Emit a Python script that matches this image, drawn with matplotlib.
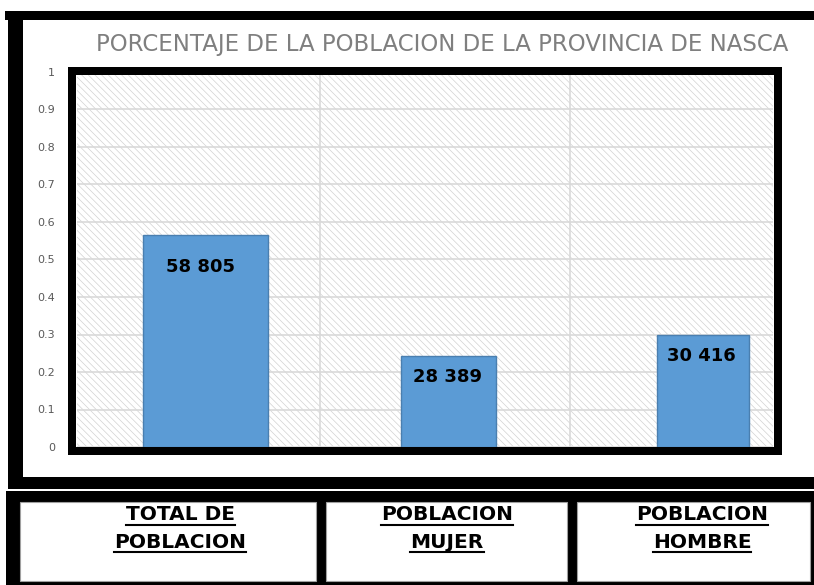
import matplotlib
matplotlib.use("Agg")
import matplotlib.pyplot as plt
import numpy as np
from matplotlib.patches import Rectangle
from matplotlib.lines import Line2D

categories = ["TOTAL DE\nPOBLACION", "POBLACION\nMUJER", "POBLACION\nHOMBRE"]
values = [0.565, 0.243, 0.299]
value_labels = ["58 805", "28 389", "30 416"]
yticks = [0, 0.1, 0.2, 0.3, 0.4, 0.5, 0.6, 0.7, 0.8, 0.9, 1]
ytick_labels = ["0", "0.1", "0.2", "0.3", "0.4", "0.5", "0.6", "0.7", "0.8", "0.9", "1"]
title = "PORCENTAJE DE LA POBLACION DE LA PROVINCIA DE NASCA"

# the original bars are not evenly placed / sized
bar_shift = [0.04, 0.012, 0.032]
bar_width = [0.5, 0.38, 0.37]
label_off = [(-3.6, -23), (-0.7, -15), (-1.4, -15)]
cell_x = [180, 447, 702]

W, H = 814, 585


def px_rect(x0, y0, x1, y1, **kw):
    return Rectangle((x0 / W, 1 - y1 / H), (x1 - x0) / W, (y1 - y0) / H,
                     transform=fig.transFigure, **kw)


plt.rcParams["hatch.linewidth"] = 0.5

fig = plt.figure(figsize=(W / 100, H / 100), dpi=100)
fig.patch.set_facecolor("white")

# outer black frame (open at the right)
fig.add_artist(px_rect(5, 11, 814, 20, color="black", lw=0))
fig.add_artist(px_rect(8, 11, 23, 489, color="black", lw=0))
fig.add_artist(px_rect(8, 477, 814, 489, color="black", lw=0))

# chart
ax = fig.add_axes([77 / W, 1 - 447 / H, (773 - 77) / W, (447 - 72) / H])
ax.set_xlim(-0.472, 2.312)
ax.set_ylim(0, 1)
ax.set_axisbelow(True)
bg = Rectangle((0, 0), 1, 1, transform=ax.transAxes, facecolor="white",
               edgecolor="#d2d2d2", hatch="\\\\\\\\\\", lw=0, zorder=0)
ax.add_patch(bg)
for s in ax.spines.values():
    s.set_visible(False)

x = np.arange(len(values)) + np.array(bar_shift)
ax.bar(x, values, width=bar_width, color="#5b9bd5", edgecolor="#4a7fb0",
       linewidth=1, zorder=2)

for xi, v, lbl, off in zip(x, values, value_labels, label_off):
    ax.annotate(lbl, (xi, v), xytext=off, textcoords="offset points",
                ha="center", va="center", fontsize=13, fontweight="bold",
                color="black", zorder=3)

ax.set_yticks(yticks)
ax.set_yticklabels(ytick_labels, fontsize=8, color="#595959")
ax.tick_params(axis="y", length=0, pad=16)
ax.set_xticks([])
ax.set_xticks([0.5, 1.5], minor=True)
ax.tick_params(axis="x", which="minor", length=0)
ax.grid(axis="y", color="#d9d9d9", lw=1.2)
ax.grid(axis="x", which="minor", color="#d9d9d9", lw=1.2)

# thick border around plot area
fig.add_artist(px_rect(72, 71, 777.5, 451, fill=False, edgecolor="black",
                       lw=8 * 0.72, zorder=5))

fig.text(442 / W, 1 - 45 / H, title, ha="center", va="center",
         fontsize=16.5, color="#7f7f7f")

# table with the category names
fig.add_artist(px_rect(6, 491, 814, 585, color="black", lw=0))
for x0, x1 in [(20, 316), (326, 567), (577, 810)]:
    fig.add_artist(px_rect(x0, 502, x1, 581, facecolor="white",
                           edgecolor="#a0a0a0", lw=0.8))

fig.canvas.draw()
renderer = fig.canvas.get_renderer()
for cx, cat in zip(cell_x, categories):
    for line, cy in zip(cat.split("\n"), [515, 542]):
        t = fig.text(cx / W, 1 - cy / H, line, ha="center", va="center",
                     fontsize=14.5, fontweight="bold", color="black")
        bb = t.get_window_extent(renderer)
        uy = (1 - (cy + 10) / H)
        fig.add_artist(Line2D([bb.x0 / W, bb.x1 / W], [uy, uy],
                              transform=fig.transFigure, color="black", lw=1.5))

fig.savefig("out.png", dpi=100)
